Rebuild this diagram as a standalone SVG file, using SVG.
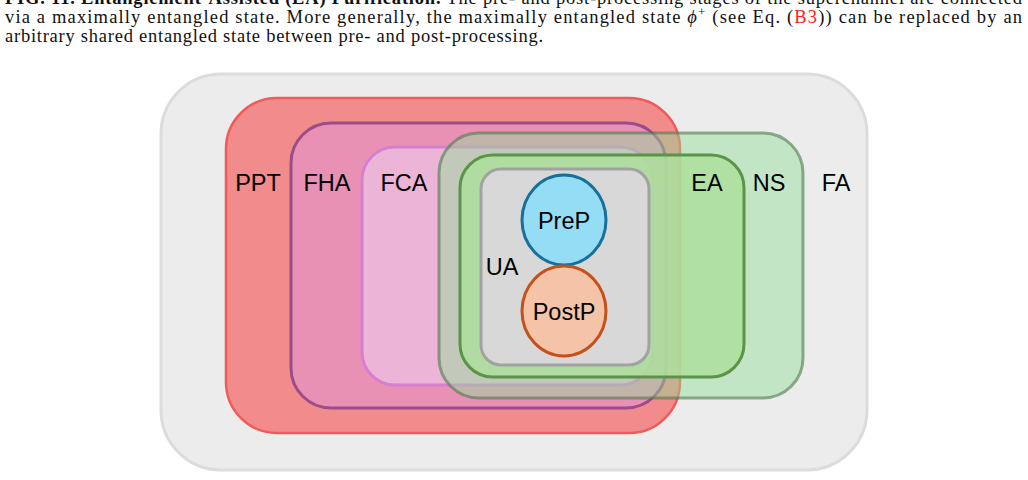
<svg xmlns="http://www.w3.org/2000/svg" width="1028" height="480" viewBox="0 0 1028 480">
<style>
.cap{font-family:"Liberation Serif","DejaVu Serif",serif;font-size:18.5px;fill:#111}
.lbl{font-family:"Liberation Sans",Arial,sans-serif;font-size:23.5px;fill:#000;text-anchor:middle}
</style>
<rect width="1028" height="480" fill="#ffffff"/>
<g id="caption">
<text class="cap" x="5" y="4" textLength="1017" lengthAdjust="spacing"><tspan font-weight="bold">FIG. 11. Entanglement-Assisted (EA) Purification.</tspan> The pre- and post-processing stages of the superchannel are connected</text>
<text class="cap" x="5" y="23" textLength="1017" lengthAdjust="spacing">via a maximally entangled state.  More generally, the maximally entangled state <tspan font-style="italic">ϕ</tspan><tspan font-size="13" dy="-7">+</tspan><tspan dy="7"> (see Eq. (</tspan><tspan fill="#ff2020">B3</tspan>)) can be replaced by an</text>
<text class="cap" x="5" y="42" textLength="538" lengthAdjust="spacing">arbitrary shared entangled state between pre- and post-processing.</text>
</g>
<g id="FA"><rect x="161" y="74" width="706" height="396" rx="60" fill="#ececec" stroke="#dcdcdc" stroke-width="3"/><text class="lbl" x="836" y="191">FA</text></g>
<g id="PPT"><rect x="226" y="98" width="454" height="335" rx="51" fill="#f28b8b" stroke="#f25a5a" stroke-width="2.5"/><text class="lbl" x="258" y="191">PPT</text></g>
<g id="FHA"><rect x="291" y="123" width="375" height="285" rx="40" fill="#e891b5" stroke="#9b4d8a" stroke-width="3"/><text class="lbl" x="327" y="191">FHA</text></g>
<g id="FCA"><rect x="362" y="147" width="291" height="238" rx="33" fill="#ecb5d7" stroke="#d67fd0" stroke-width="3"/><text class="lbl" x="404" y="191">FCA</text></g>
<g id="NS"><rect x="439" y="133" width="364" height="265" rx="40" fill="#92de98" fill-opacity="0.47" stroke="#4f7a4f" stroke-opacity="0.6" stroke-width="3"/><text class="lbl" x="769" y="191">NS</text></g>
<g id="EA"><rect x="460" y="155" width="284" height="222" rx="33" fill="#aedf9c" fill-opacity="0.85" stroke="#5a9448" stroke-width="3"/><text class="lbl" x="707" y="191">EA</text></g>
<g id="UA"><rect x="481" y="169" width="168" height="196" rx="20" fill="#d8d8d8" stroke="#a2a2a2" stroke-width="3"/><text class="lbl" x="502" y="275">UA</text></g>
<g id="PreP"><ellipse cx="564" cy="220" rx="42" ry="45" fill="#95dcf5" stroke="#17709c" stroke-width="3"/><text class="lbl" x="564" y="229">PreP</text></g>
<g id="PostP"><ellipse cx="564" cy="311" rx="42" ry="45" fill="#f5c3a8" stroke="#c4501a" stroke-width="3"/><text class="lbl" x="564" y="320">PostP</text></g>
<g id="connectors"></g>
</svg>
